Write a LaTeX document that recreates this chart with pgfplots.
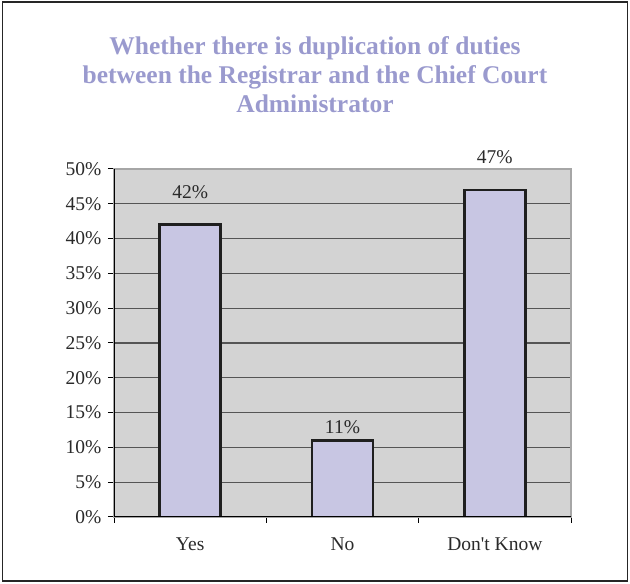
\documentclass[border=0pt]{standalone}
\usepackage{pgfplots}
\pgfplotsset{compat=1.18}
\usepackage{pgfplotstable}
\usepackage{fontspec}
\setmainfont{Liberation Serif}
\definecolor{titlecol}{HTML}{9A9ACE}
\definecolor{barfill}{HTML}{C8C6E3}
\definecolor{bgcol}{HTML}{D3D3D3}
\definecolor{gridcol}{HTML}{555555}
\definecolor{txtcol}{HTML}{2A2A2A}
\pgfplotstableread{
x y off
0 42 33
1 11 13
2 47 33
}\datatable
\begin{document}
\begin{tikzpicture}[x=1pt,y=1pt]
\path[use as bounding box] (0,0) rectangle (630,584);
\draw[line width=1.8pt, black!85] (2.5,3) rectangle (627.5,582);
\node[align=center, text=titlecol, font=\fontsize{25.5}{29}\selectfont\bfseries] at (315,509) {Whether there is duplication of duties\\between the Registrar and the Chief Court\\Administrator};
\begin{axis}[
 at={(114pt,67pt)}, anchor=south west,
 scale only axis, width=457pt, height=348pt,
 xmin=-0.5, xmax=2.5, ymin=0, ymax=50,
 axis background/.style={fill=bgcol},
 axis line style={draw=gray!70, line width=1.5pt},
 ytick={0,5,...,50},
 yticklabel={\pgfmathprintnumber{\tick}\%},
 ymajorgrids, grid style={gridcol, line width=1.3pt},
 xtick={-0.5,0.5,1.5,2.5}, xticklabels={},
 extra x ticks={0,1,2}, extra x tick labels={Yes,No,Don\textquotesingle t Know},
 extra x tick style={major tick length=0pt, grid=none},
 tick align=outside, major tick length=6pt,
 tick pos=left,
 tick style={black, line width=1pt},
 ticklabel style={font=\fontsize{19.5}{22}\selectfont, text=txtcol},
 /pgf/number format/assume math mode=true,
 x tick label style={yshift=-17pt},
 y tick label style={xshift=-3pt},
]
\addplot[ybar, bar width=0.4, fill=barfill, draw=black!88, line width=2.6pt,
  point meta=explicit,
  visualization depends on={\thisrow{off}\as\labeloff},
  nodes near coords={\pgfmathprintnumber{\pgfplotspointmeta}\%},
  nodes near coords style={anchor=center, yshift=\labeloff pt, font=\fontsize{19.5}{22}\selectfont, text=txtcol, /pgf/number format/assume math mode=true},
] table[x=x, y=y, meta=y] {\datatable};
\draw[black, line width=1.5pt] (axis cs:-0.5,50) -- (axis cs:-0.5,0) -- (axis cs:2.5,0);
\end{axis}
\end{tikzpicture}
\end{document}
